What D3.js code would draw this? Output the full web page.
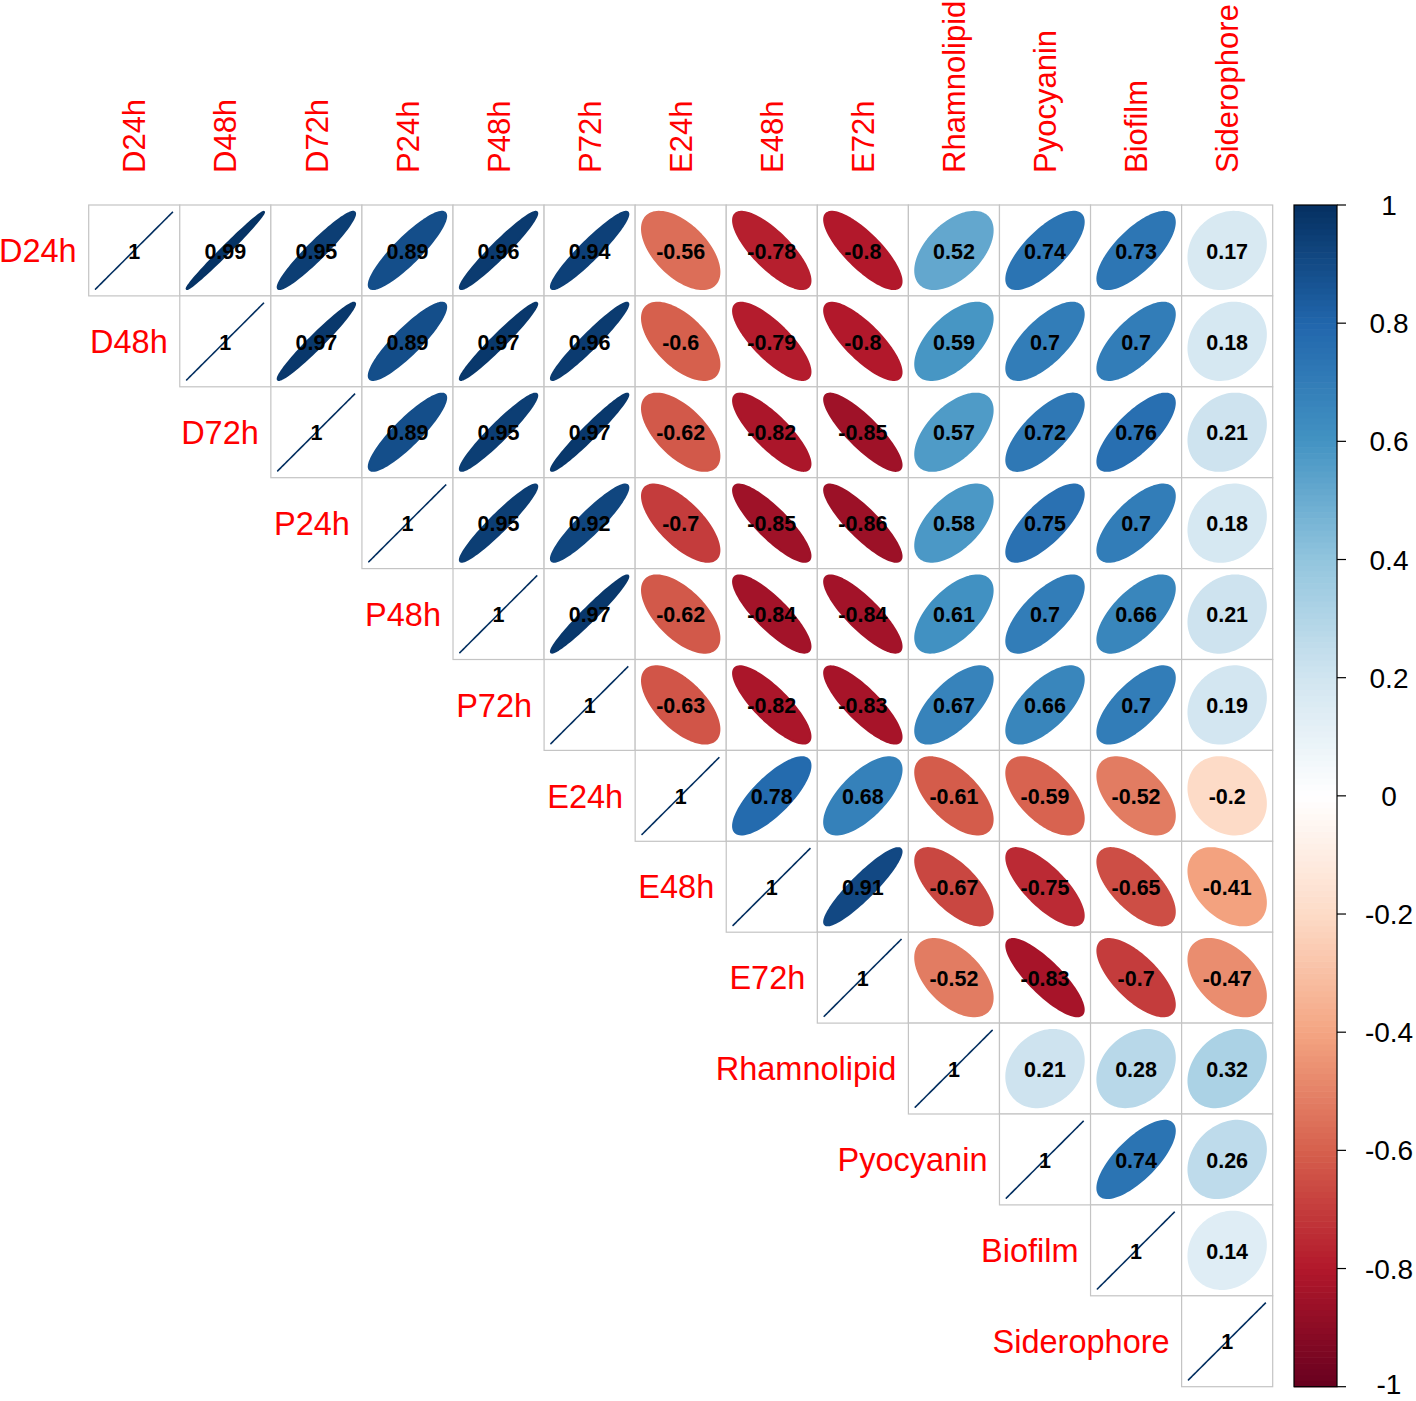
<!DOCTYPE html>
<html><head><meta charset="utf-8">
<script src="https://cdn.jsdelivr.net/npm/d3@7"></script>
<style>html,body{margin:0;padding:0;background:#fff;}svg{display:block;font-family:"Liberation Sans",Arial,sans-serif;}</style>
</head><body>
<svg id="chart" width="1416" height="1401"></svg>
<script>
const variables = ["D24h","D48h","D72h","P24h","P48h","P72h","E24h","E48h","E72h","Rhamnolipid","Pyocyanin","Biofilm","Siderophore"];
// upper-triangle rows, starting at the diagonal
const rowD24h = [1, 0.99, 0.95, 0.89, 0.96, 0.94, -0.56, -0.78, -0.8, 0.52, 0.74, 0.73, 0.17];
const rowD48h = [1, 0.97, 0.89, 0.97, 0.96, -0.6, -0.79, -0.8, 0.59, 0.7, 0.7, 0.18];
const rowD72h = [1, 0.89, 0.95, 0.97, -0.62, -0.82, -0.85, 0.57, 0.72, 0.76, 0.21];
const rowP24h = [1, 0.95, 0.92, -0.7, -0.85, -0.86, 0.58, 0.75, 0.7, 0.18];
const rowP48h = [1, 0.97, -0.62, -0.84, -0.84, 0.61, 0.7, 0.66, 0.21];
const rowP72h = [1, -0.63, -0.82, -0.83, 0.67, 0.66, 0.7, 0.19];
const rowE24h = [1, 0.78, 0.68, -0.61, -0.59, -0.52, -0.2];
const rowE48h = [1, 0.91, -0.67, -0.75, -0.65, -0.41];
const rowE72h = [1, -0.52, -0.83, -0.7, -0.47];
const rowRhamnolipid = [1, 0.21, 0.28, 0.32];
const rowPyocyanin = [1, 0.74, 0.26];
const rowBiofilm = [1, 0.14];
const rowSiderophore = [1];
const colorStops = ["#67001F","#B2182B","#D6604D","#F4A582","#FDDBC7","#FFFFFF","#D1E5F0","#92C5DE","#4393C3","#2166AC","#053061"];
const legendTicks = [1, 0.8, 0.6, 0.4, 0.2, 0, -0.2, -0.4, -0.6, -0.8, -1];

const rows = [rowD24h,rowD48h,rowD72h,rowP24h,rowP48h,rowP72h,rowE24h,rowE48h,rowE72h,rowRhamnolipid,rowPyocyanin,rowBiofilm,rowSiderophore];
const cells = [];
rows.forEach((r, i) => r.forEach((v, k) => cells.push({row: variables[i], col: variables[i + k], value: v, diag: k === 0})));

const svg = d3.select("#chart");
const x = d3.scaleBand().domain(variables).range([88.7, 1272.7]);
const y = d3.scaleBand().domain(variables).range([205, 1386.7]);
const color = d3.scaleLinear()
  .domain(d3.range(colorStops.length).map(i => -1 + 2 * i / (colorStops.length - 1)))
  .range(colorStops).interpolate(d3.interpolateRgb);

const fmt = v => String(Math.round(v * 100) / 100);

// grid
svg.append("g").selectAll("rect").data(cells).join("rect")
  .attr("x", d => x(d.col)).attr("y", d => y(d.row))
  .attr("width", x.bandwidth()).attr("height", y.bandwidth())
  .attr("fill", "#fff").attr("stroke", "#c4c4c4").attr("stroke-width", 1.2);

// ellipses
const K = d3.range(99).map(i => i * 2 * Math.PI / 98);
const ellipse = d => {
  const a = Math.acos(Math.max(-1, Math.min(1, d.value)));
  const cx = x(d.col) + x.bandwidth() / 2, cy = y(d.row) + y.bandwidth() / 2;
  return K.map(k => [cx + 0.85 * Math.cos(k + a / 2) / 2 * x.bandwidth(),
                     cy - 0.85 * Math.cos(k - a / 2) / 2 * y.bandwidth()]);
};
const line = d3.line();
svg.append("g").selectAll("path").data(cells).join("path")
  .attr("d", d => line(ellipse(d)) + (d.diag ? "" : "Z"))
  .attr("fill", d => d.diag ? "none" : color(d.value))
  .attr("stroke", d => color(d.value))
  .attr("stroke-linejoin", "round")
  .attr("stroke-width", d => d.diag ? 1.6 : 2);

// numbers
svg.append("g").selectAll("text").data(cells).join("text")
  .attr("x", d => x(d.col) + x.bandwidth() / 2)
  .attr("y", d => y(d.row) + y.bandwidth() / 2)
  .attr("dy", "0.38em").attr("text-anchor", "middle")
  .attr("font-size", 21.5).attr("font-weight", "bold").attr("fill", "#000")
  .text(d => fmt(d.value));

// row labels
svg.append("g").selectAll("text").data(variables).join("text")
  .attr("x", d => x(d) - 12).attr("y", d => y(d) + y.bandwidth() / 2)
  .attr("dy", "0.36em").attr("text-anchor", "end")
  .attr("font-size", 32.5).attr("fill", "#FF0000").text(d => d);

// column labels
svg.append("g").selectAll("text").data(variables).join("text")
  .attr("transform", d => `translate(${x(d) + x.bandwidth() / 2},173) rotate(-90)`)
  .attr("dy", "0.36em").attr("text-anchor", "start")
  .attr("font-size", 31).attr("fill", "#FF0000").text(d => d);

// color legend
const ly = d3.scaleLinear().domain([-1, 1]).range([1386.7, 205]);
const lx0 = 1294, lx1 = 1337;
const nBins = 200;
const bins = d3.range(nBins).map(i => -1 + 2 * i / nBins);
svg.append("g").selectAll("rect").data(bins).join("rect")
  .attr("x", lx0).attr("width", lx1 - lx0)
  .attr("y", d => ly(d + 2 / nBins)).attr("height", d => ly(d) - ly(d + 2 / nBins) + 0.6)
  .attr("fill", d => color(d + 1 / nBins));
svg.append("rect").attr("x", lx0).attr("y", ly(1)).attr("width", lx1 - lx0)
  .attr("height", ly(-1) - ly(1)).attr("fill", "none").attr("stroke", "#000").attr("stroke-width", 1.2);
const lg = svg.append("g");
lg.selectAll("line").data(legendTicks).join("line")
  .attr("x1", lx1).attr("x2", 1346).attr("y1", d => ly(d)).attr("y2", d => ly(d))
  .attr("stroke", "#000").attr("stroke-width", 1.2);
lg.selectAll("text").data(legendTicks).join("text")
  .attr("x", 1389).attr("y", d => Math.min(ly(d) + 10, 1394))
  .attr("text-anchor", "middle").attr("font-size", 28).attr("fill", "#000")
  .text(d => String(d));
</script>
</body></html>
